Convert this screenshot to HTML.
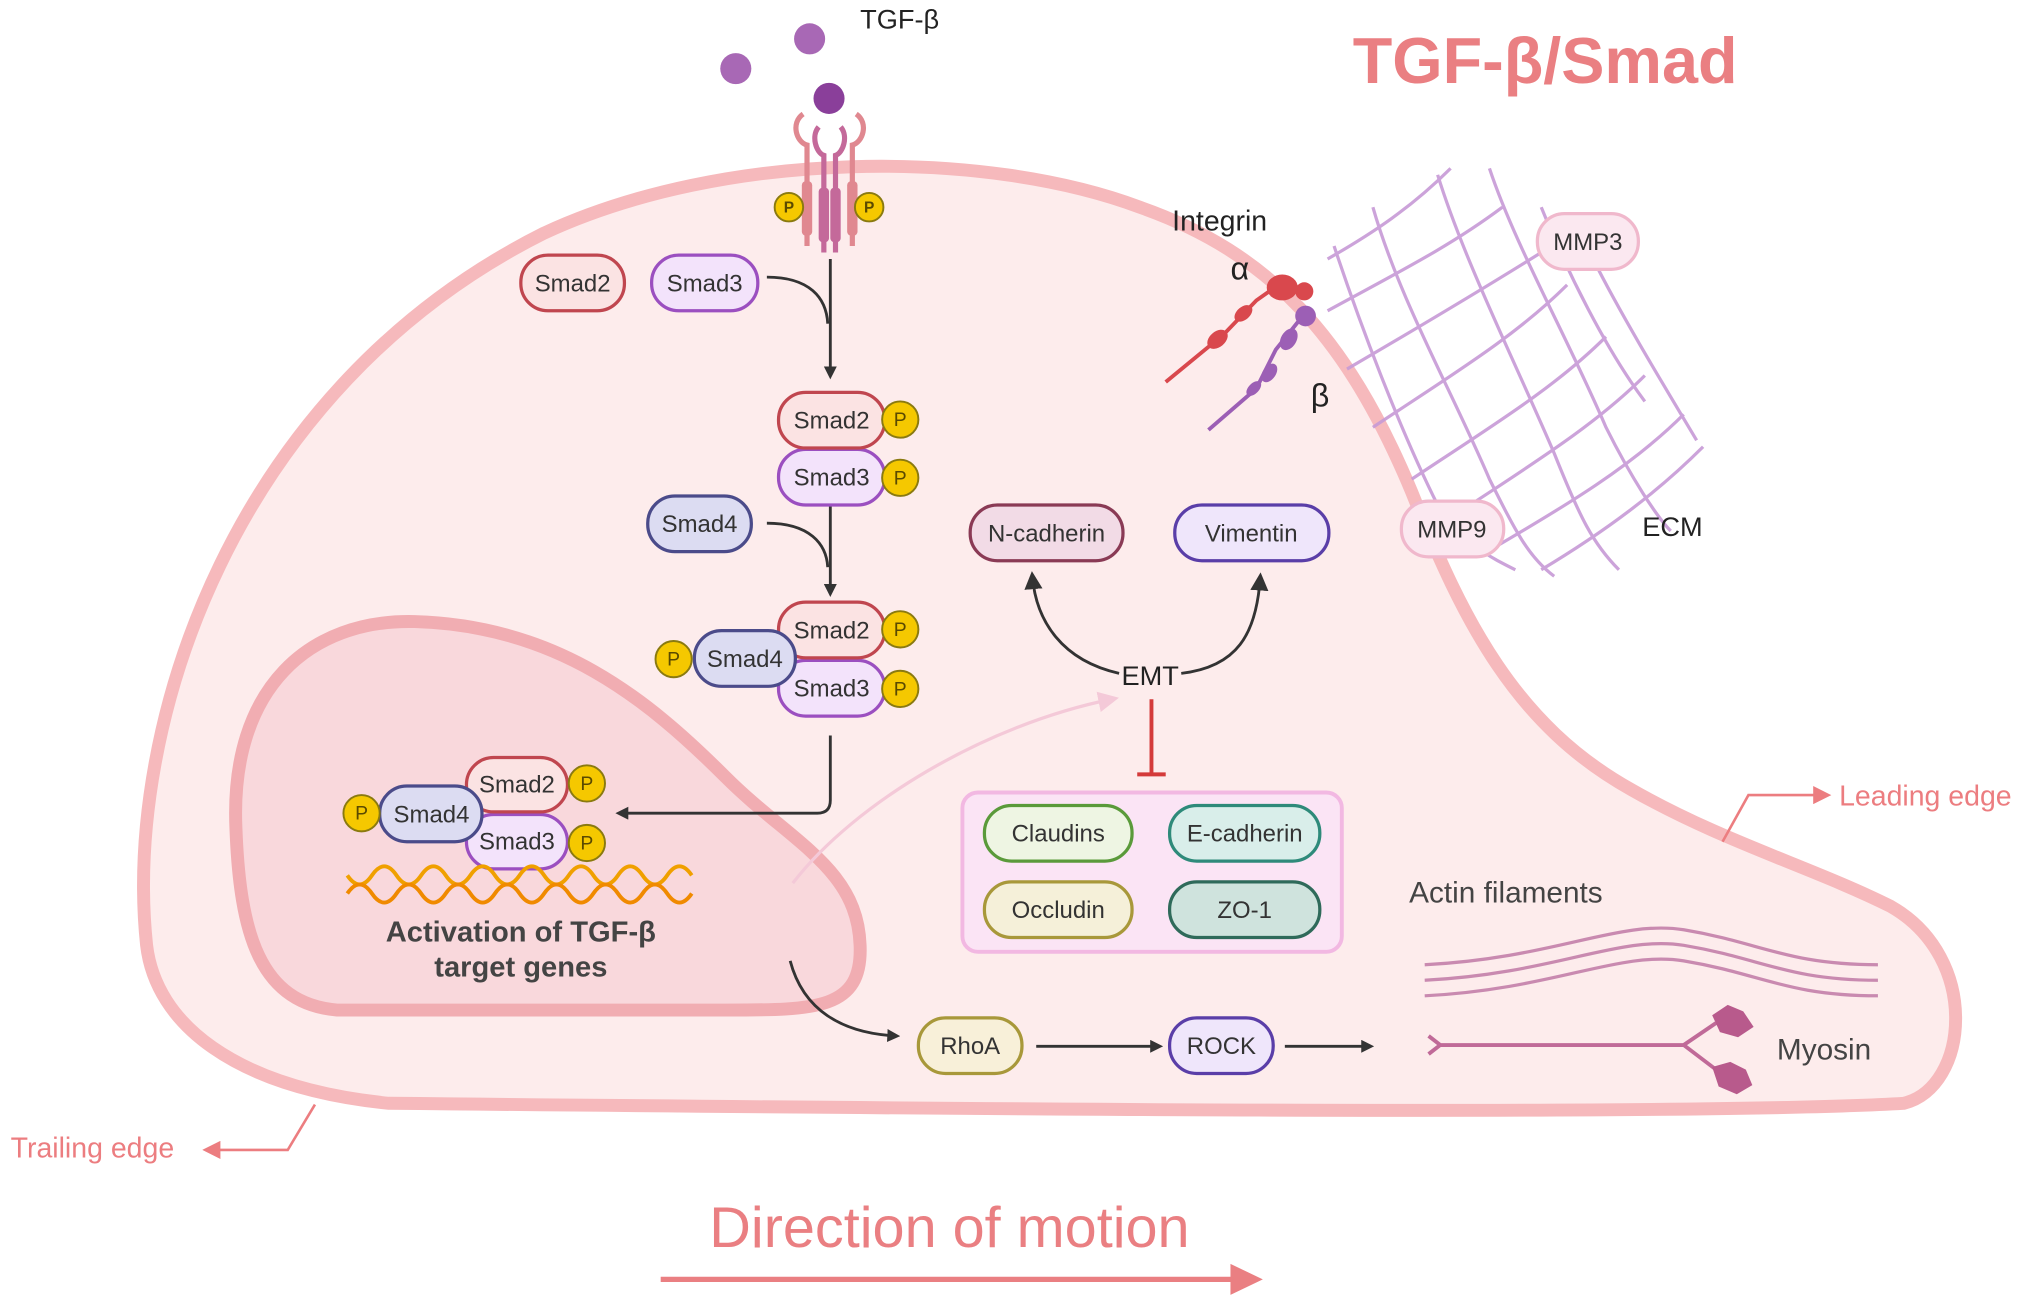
<!DOCTYPE html>
<html><head><meta charset="utf-8"><style>
html,body{margin:0;padding:0;background:#fff;width:2031px;height:1304px;overflow:hidden}
svg text{font-family:"Liberation Sans",sans-serif}
</style></head><body>
<svg width="2031" height="1304" viewBox="0 0 1568 1007" xmlns="http://www.w3.org/2000/svg">
<defs>
<marker id="ah" markerWidth="10" markerHeight="10" refX="7" refY="5" orient="auto" markerUnits="userSpaceOnUse" viewBox="0 0 10 10"><path d="M0,0 L10,5 L0,10 z" fill="#333"/></marker>
<marker id="ahk" markerWidth="14" markerHeight="14" refX="10" refY="7" orient="auto" markerUnits="userSpaceOnUse" viewBox="0 0 14 14"><path d="M0,0 L14,7 L0,14 z" fill="#333"/></marker>
<marker id="ahp" markerWidth="16" markerHeight="16" refX="10" refY="8" orient="auto" markerUnits="userSpaceOnUse" viewBox="0 0 16 16"><path d="M0,0 L16,8 L0,16 z" fill="#f4c9d8"/></marker>
<marker id="ahr" markerWidth="14" markerHeight="14" refX="8" refY="7" orient="auto" markerUnits="userSpaceOnUse" viewBox="0 0 14 14"><path d="M0,0 L14,7 L0,14 z" fill="#ec7d80"/></marker>
</defs>

<!-- cell -->
<path d="M113,730 C95,560 180,300 420,180 C560,115 760,115 880,160 C980,195 1040,260 1090,380 C1130,480 1170,560 1260,610 C1330,650 1400,670 1460,700 C1530,740 1520,840 1470,852 C1300,862 700,856 300,852 C180,840 120,790 113,730 Z" fill="#fdecec" stroke="#f6b9bc" stroke-width="10"/>

<!-- nucleus -->
<path d="M182,640 C177,530 240,478 320,480 C430,483 500,540 560,600 C610,650 662,670 664,730 C666,780 630,780 560,780 L260,780 C200,775 185,720 182,640 Z" fill="#f9d8dc" stroke="#f1adb2" stroke-width="10"/>

<!-- ECM mesh -->
<g stroke="#c79ad6" stroke-width="2.5" fill="none" opacity="0.9">
<path d="M1025,200 C1060,180 1090,160 1120,130"/>
<path d="M1025,240 C1080,210 1120,190 1160,160"/>
<path d="M1040,285 C1100,250 1150,220 1190,195"/>
<path d="M1060,330 C1120,290 1170,260 1210,220"/>
<path d="M1090,370 C1150,330 1200,300 1240,260"/>
<path d="M1120,400 C1180,360 1230,330 1270,290"/>
<path d="M1150,425 C1210,390 1260,360 1300,320"/>
<path d="M1190,440 C1240,410 1280,380 1315,345"/>
<path d="M1110,135 C1130,200 1170,280 1200,350 C1220,400 1230,420 1250,440"/>
<path d="M1060,160 C1080,230 1120,300 1150,370 C1170,410 1180,430 1200,445"/>
<path d="M1030,190 C1050,250 1080,330 1110,390 C1130,420 1150,430 1170,440"/>
<path d="M1150,130 C1170,190 1210,260 1240,330 C1260,370 1280,400 1290,410"/>
<path d="M1190,160 C1210,210 1240,270 1270,310"/>
<path d="M1230,200 C1250,240 1280,290 1310,340"/>
</g>

<!-- integrin -->
<path d="M900,295 L945,258 L970,232 L990,218" stroke="#d9484d" stroke-width="3" fill="none"/>
<ellipse cx="940" cy="262" rx="9" ry="6" fill="#d9484d" transform="rotate(-40 940 262)"/>
<ellipse cx="960" cy="242" rx="8" ry="5" fill="#d9484d" transform="rotate(-40 960 242)"/>
<ellipse cx="990" cy="222" rx="12" ry="10" fill="#d9484d"/>
<circle cx="1007" cy="225" r="7" fill="#d9484d"/>
<path d="M933,332 L970,300 L985,270 L1005,245" stroke="#9c5fb5" stroke-width="3" fill="none"/>
<circle cx="1008" cy="244" r="8" fill="#9c5fb5"/>
<ellipse cx="995" cy="262" rx="6" ry="9" fill="#9c5fb5" transform="rotate(30 995 262)"/>
<ellipse cx="980" cy="288" rx="5" ry="8" fill="#9c5fb5" transform="rotate(35 980 288)"/>
<ellipse cx="968" cy="300" rx="4" ry="7" fill="#9c5fb5" transform="rotate(45 968 300)"/>
<text x="905" y="178" font-size="22" fill="#222">Integrin</text>
<text x="950" y="216" font-size="25" fill="#222">α</text>
<text x="1012" y="314" font-size="25" fill="#222">β</text>

<!-- TGF-b & receptor -->
<circle cx="568" cy="53" r="12" fill="#a868b5"/>
<circle cx="625" cy="30" r="12" fill="#a868b5"/>
<circle cx="640" cy="76" r="12" fill="#8a3f9a"/>
<text x="664" y="22" font-size="21" fill="#222">TGF-β</text>
<g stroke="#e08890" stroke-width="4" fill="none">
<path d="M620,88 C610,95 615,110 623,112 L623,190"/>
<path d="M661,88 C671,95 666,110 658,112 L658,190"/>
</g>
<g stroke="#c4699a" stroke-width="4" fill="none">
<path d="M632,98 C626,105 630,118 636,120 L636,195"/>
<path d="M649,98 C655,105 651,118 645,120 L645,195"/>
</g>
<rect x="619" y="140" width="8" height="42" rx="3" fill="#e08890"/>
<rect x="654" y="140" width="8" height="42" rx="3" fill="#e08890"/>
<rect x="632" y="145" width="8" height="42" rx="3" fill="#c4699a"/>
<rect x="641" y="145" width="8" height="42" rx="3" fill="#c4699a"/>

<!-- title -->
<text x="1193" y="64" font-size="50" font-weight="bold" fill="#ea7f82" text-anchor="middle">TGF-β/Smad</text>

<!-- arrows pathway -->
<g stroke="#333" stroke-width="2.2" fill="none">
<path d="M641,200 L641,290" marker-end="url(#ah)"/>
<path d="M592,214 C625,214 638,230 639,250"/>
<path d="M641,390 L641,458" marker-end="url(#ah)"/>
<path d="M592,404 C625,404 638,420 639,438"/>
<path d="M641,568 L641,618 Q641,628 631,628 L478,628" marker-end="url(#ah)"/>
<path d="M610,742 C620,780 650,798 692,800" marker-end="url(#ah)"/>
<path d="M800,808 L895,808" marker-end="url(#ah)"/>
<path d="M992,808 L1058,808" marker-end="url(#ah)"/>
<path d="M864,520 C820,510 800,480 797,445" marker-end="url(#ahk)"/>
<path d="M912,520 C955,515 970,490 973,446" marker-end="url(#ahk)"/>
</g>
<path d="M612,682 C660,620 760,560 858,540" stroke="#f4c9d8" stroke-width="2.5" fill="none" marker-end="url(#ahp)"/>
<path d="M889,540 L889,598 M878,598 L900,598" stroke="#d43a3a" stroke-width="3" fill="none"/>
<text x="888" y="529" font-size="21" fill="#222" text-anchor="middle">EMT</text>

<!-- tight junction box -->
<rect x="743" y="612" width="293" height="123" rx="12" fill="#fbe4f5" stroke="#f2b8e2" stroke-width="3"/>

<g font-size="18.5" text-anchor="middle" fill="#333" stroke-width="2.5">
<rect x="402" y="197" width="80" height="43" rx="21" fill="#fbe3e3" stroke="#c0464f"/><text x="442" y="225" stroke="none">Smad2</text>
<rect x="503" y="197" width="82" height="43" rx="21" fill="#f3e3fb" stroke="#9b4fc0"/><text x="544" y="225" stroke="none">Smad3</text>

<rect x="601" y="347" width="82" height="43" rx="21" fill="#f3e3fb" stroke="#9b4fc0"/><text x="642" y="375" stroke="none">Smad3</text>
<rect x="601" y="303" width="82" height="43" rx="21" fill="#fbe3e3" stroke="#c0464f"/><text x="642" y="331" stroke="none">Smad2</text>

<rect x="500" y="383" width="80" height="43" rx="21" fill="#dcdcf2" stroke="#4b4b8a"/><text x="540" y="411" stroke="none">Smad4</text>

<rect x="601" y="510" width="82" height="43" rx="21" fill="#f3e3fb" stroke="#9b4fc0"/><text x="642" y="538" stroke="none">Smad3</text>
<rect x="601" y="465" width="82" height="43" rx="21" fill="#fbe3e3" stroke="#c0464f"/><text x="642" y="493" stroke="none">Smad2</text>
<rect x="536" y="487" width="78" height="43" rx="21" fill="#dcdcf2" stroke="#4b4b8a"/><text x="575" y="515" stroke="none">Smad4</text>

<rect x="360" y="629" width="78" height="42" rx="21" fill="#f3e3fb" stroke="#9b4fc0"/><text x="399" y="656" stroke="none">Smad3</text>
<rect x="360" y="585" width="78" height="42" rx="21" fill="#fbe3e3" stroke="#c0464f"/><text x="399" y="612" stroke="none">Smad2</text>
<rect x="293" y="607" width="79" height="43" rx="21" fill="#dcdcf2" stroke="#4b4b8a"/><text x="333" y="635" stroke="none">Smad4</text>

<rect x="749" y="390" width="118" height="43" rx="21" fill="#f2dbe6" stroke="#8a3a55"/><text x="808" y="418" stroke="none">N-cadherin</text>
<rect x="907" y="390" width="119" height="43" rx="21" fill="#efe6fb" stroke="#5a3ea8"/><text x="966" y="418" stroke="none">Vimentin</text>

<rect x="760" y="622" width="114" height="43" rx="21" fill="#eef5e3" stroke="#5a9a3a"/><text x="817" y="650" stroke="none">Claudins</text>
<rect x="903" y="622" width="116" height="43" rx="21" fill="#d9eeea" stroke="#2e8a7a"/><text x="961" y="650" stroke="none">E-cadherin</text>
<rect x="760" y="681" width="114" height="43" rx="21" fill="#f5f0d9" stroke="#a8983a"/><text x="817" y="709" stroke="none">Occludin</text>
<rect x="903" y="681" width="116" height="43" rx="21" fill="#cfe3dd" stroke="#2f6a5a"/><text x="961" y="709" stroke="none">ZO-1</text>

<rect x="709" y="786" width="80" height="43" rx="21" fill="#f8f0d9" stroke="#a8983a"/><text x="749" y="814" stroke="none">RhoA</text>
<rect x="903" y="786" width="80" height="43" rx="21" fill="#efe6fb" stroke="#5a3ea8"/><text x="943" y="814" stroke="none">ROCK</text>

<rect x="1187" y="165" width="78" height="43" rx="21" fill="#fbe8f0" stroke="#f0b8cc"/><text x="1226" y="193" stroke="none">MMP3</text>
<rect x="1082" y="387" width="79" height="43" rx="21" fill="#fbe8f0" stroke="#f0b8cc"/><text x="1121" y="415" stroke="none">MMP9</text>
</g>

<!-- P circles -->
<g font-size="12" font-weight="bold" text-anchor="middle" fill="#5a4a00">
<g fill="#f5c800" stroke="#8a7a10" stroke-width="1.5">
<circle cx="609" cy="160" r="11"/><circle cx="671" cy="160" r="11"/>
<circle cx="695" cy="324" r="14"/><circle cx="695" cy="369" r="14"/>
<circle cx="695" cy="486" r="14"/><circle cx="695" cy="532" r="14"/><circle cx="520" cy="509" r="14"/>
<circle cx="453" cy="605" r="14"/><circle cx="453" cy="651" r="14"/><circle cx="279" cy="628" r="14"/>
</g>
<text x="609" y="164">P</text><text x="671" y="164">P</text>
<g font-size="15" font-weight="normal" fill="#5a4a00">
<text x="695" y="329">P</text><text x="695" y="374">P</text><text x="695" y="491">P</text><text x="695" y="537">P</text><text x="520" y="514">P</text>
<text x="453" y="610">P</text><text x="453" y="656">P</text><text x="279" y="633">P</text>
</g>
</g>

<!-- DNA -->
<g stroke="#f0a000" stroke-width="3" fill="none">
<path d="M268,676 q9.5,14 19,0 t19,0 t19,0 t19,0 t19,0 t19,0 t19,0 t19,0 t19,0 t19,0 t19,0 t19,0 t19,0 t19,0"/>
<path d="M268,690 q9.5,-14 19,0 t19,0 t19,0 t19,0 t19,0 t19,0 t19,0 t19,0 t19,0 t19,0 t19,0 t19,0 t19,0 t19,0" stroke="#f08a00"/>
</g>
<text x="402" y="727" font-size="22.5" font-weight="bold" fill="#444" text-anchor="middle">Activation of TGF-β</text>
<text x="402" y="754" font-size="22.5" font-weight="bold" fill="#444" text-anchor="middle">target genes</text>

<!-- actin -->
<g stroke="#c98ab0" stroke-width="2.5" fill="none">
<path d="M1100,745 C1200,740 1250,710 1300,718 C1360,728 1380,745 1450,745"/>
<path d="M1100,757 C1200,752 1250,722 1300,730 C1360,740 1380,757 1450,757"/>
<path d="M1100,769 C1200,764 1250,734 1300,742 C1360,752 1380,769 1450,769"/>
</g>
<text x="1088" y="697" font-size="23" fill="#444">Actin filaments</text>
<path d="M1103,800 L1112,807 L1103,814 M1112,807 L1300,807 L1325,790 M1300,807 L1325,826" stroke="#c06a98" stroke-width="3" fill="none"/>
<path d="M1322,784 l12,-8 l12,5 l8,12 l-12,8 l-14,-4 z" fill="#b85a8c"/>
<path d="M1322,824 l14,-4 l12,6 l5,12 l-12,7 l-14,-6 z" fill="#b85a8c"/>
<text x="1372" y="818" font-size="23" fill="#444">Myosin</text>
<text x="1268" y="414" font-size="21" fill="#222">ECM</text>

<!-- edges -->
<path d="M1330,650 L1350,614 L1408,614" stroke="#ec7d80" stroke-width="2" fill="none" marker-end="url(#ahr)"/>
<text x="1420" y="622" font-size="22" fill="#ec7d80">Leading edge</text>
<path d="M243,853 L222,888 L162,888" stroke="#ec7d80" stroke-width="2" fill="none" marker-end="url(#ahr)"/>
<text x="8" y="894" font-size="22" fill="#ec7d80">Trailing edge</text>

<text x="733" y="963" font-size="44.5" fill="#ea7f82" text-anchor="middle">Direction of motion</text>
<path d="M510,988 L955,988" stroke="#ea7f82" stroke-width="4" fill="none"/>
<path d="M950,976 L975,988 L950,1000 z" fill="#ea7f82"/>
</svg>
</body></html>
